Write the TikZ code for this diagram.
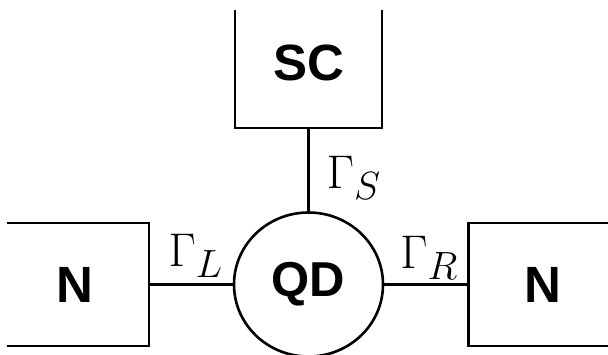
\documentclass[tikz,border=0pt]{standalone}
\usepackage[no-math]{fontspec}
\newfontfamily\boxfont{Liberation Sans}
\usetikzlibrary{positioning,shapes.geometric,calc}

\begin{document}
\begin{tikzpicture}[x=1pt,y=-1pt,
  lead/.style={line width=2.6pt},
  res/.style={minimum width=149pt,minimum height=123pt,inner sep=0pt,outer sep=0pt,
    font={\boxfont\bfseries\fontsize{51}{60}\selectfont}},
  dot/.style={ellipse,draw,lead,minimum width=149pt,minimum height=144pt,inner sep=0pt,
    font={\boxfont\bfseries\fontsize{49}{60}\selectfont}},
  gam/.style={font=\Huge,inner sep=0pt}]
  \useasboundingbox (0,0) rectangle (608,354);
  \clip (0,0) rectangle (608,354);
  % reservoirs and dot
  \node[res] (nl) at (74.5,284.5) {N};
  \node[res] (nr) at (543,284.5) {N};
  \node[res,minimum width=147pt,minimum height=130pt] (sc) at (308.5,63) {SC};
  \node[dot] (qd) at (308.5,284.5) {QD};
  % open boxes
  \draw[lead] ($(nl.north west)+(7,0)$) -- (nl.north east) -- (nl.south east) -- ($(nl.south west)+(7,0)$);
  \draw[lead] (nr.north east) -- (nr.north west) -- (nr.south west) -- (nr.south east);
  \draw[lead] ($(sc.north west)+(0,12)$) -- (sc.south west) -- (sc.south east) -- ($(sc.north east)+(0,12)$);
  % couplings
  \draw[lead] (nl.east) -- node[gam,above=6pt,xshift=5pt] {\scalebox{1.9}{$\Gamma_L$}} (qd.west);
  \draw[lead] (qd.east) -- node[gam,above=4pt,xshift=3pt] {\scalebox{1.9}{$\Gamma_R$}} (nr.west);
  \draw[lead] (sc.south) -- node[gam,right=17pt,pos=0.6] {\scalebox{1.9}{$\Gamma_S$}} (qd.north);
\end{tikzpicture}
\end{document}
